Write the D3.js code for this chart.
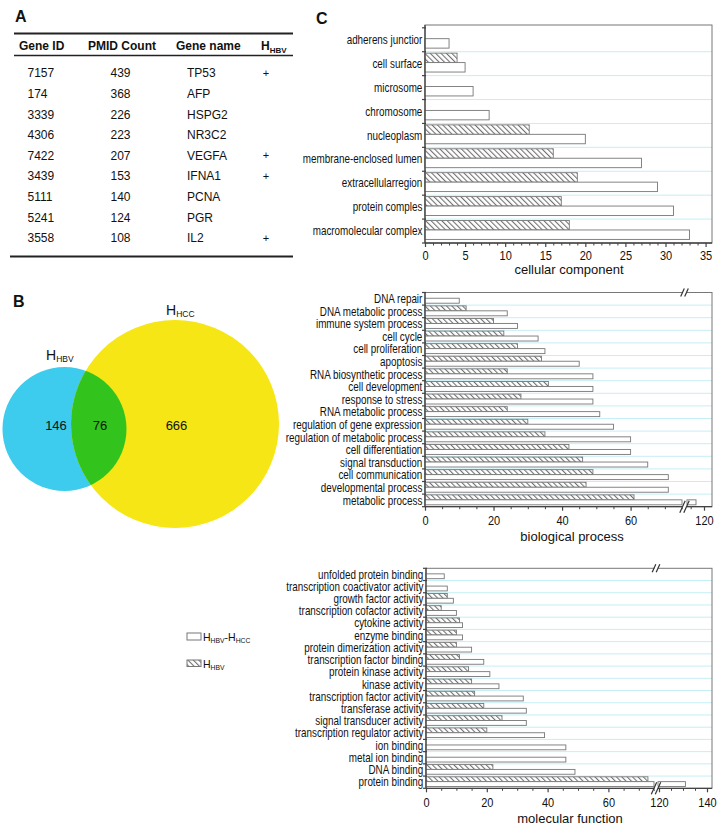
<!DOCTYPE html>
<html><head><meta charset="utf-8">
<script src="https://cdn.jsdelivr.net/npm/d3@7"></script>
<style>
body{margin:0;background:#fff}
svg{display:block}
text{font-family:"Liberation Sans",Arial,Helvetica,sans-serif;fill:#111}
</style>
</head><body>
<svg id="c" width="720" height="836"></svg>
<script>
// ---------- Panel A data ----------
const tableHeaders = ["Gene ID","PMID Count","Gene name"];
const geneIds = ["7157","174","3339","4306","7422","3439","5111","5241","3558"];
const pmidCounts = [439,368,226,223,207,153,140,124,108];
const geneNames = ["TP53","AFP","HSPG2","NR3C2","VEGFA","IFNA1","PCNA","PGR","IL2"];
const hbvFlags = ["+","","","","+","+","","","+"];

// ---------- Panel B data ----------
const vennCounts = [146, 76, 666]; // HBV only, both, HCC only

// ---------- Panel C data ----------
const ccCats = ["adherens junctior","cell surface","microsome","chromosome","nucleoplasm","membrane-enclosed lumen","extracellularregion","protein comples","macromolecular complex"];
const ccHBV  = [0,4,0,0,13,16,19,17,18];
const ccDiff = [3,5,6,8,20,27,29,31,33];
const ccMajor = [0,5,10,15,20,25,30,35];

const bpCats = ["DNA repair","DNA metabolic process","immune system process","cell cycle","cell proliferation","apoptosis","RNA biosynthetic process","cell development","response to stress","RNA metabolic process","regulation of gene expression","regulation of metabolic process","cell differentiation","signal transduction","cell communication","developmental process","metabolic process"];
const bpHBV  = [0,12,20,23,27,34,24,36,28,24,30,35,42,46,49,47,61];
const bpDiff = [10,24,27,33,35,45,49,49,49,51,55,60,60,65,71,71,117];
const bpMajor = [0,20,40,60,120];

const mfCats = ["unfolded protein binding","transcription coactivator activity","growth factor activity","transcription cofactor activity","cytokine activity","enzyme binding","protein dimerization activity","transcription factor binding","protein kinase activity","kinase activity","transcription factor activity","transferase activity","signal transducer activity","transcription regulator activity","ion binding","metal ion binding","DNA binding","protein binding"];
const mfHBV  = [0,0,7,5,11,10,10,11,14,15,16,19,25,20,0,0,22,73];
const mfDiff = [6,7,9,10,12,12,15,19,21,24,32,33,33,39,46,46,49,131];
const mfMajor = [0,20,40,60,120,140];

const svg = d3.select("#c");
const defs = svg.append("defs");
const pat = defs.append("pattern").attr("id","hatch")
  .attr("patternUnits","userSpaceOnUse").attr("width",3.8).attr("height",3.8)
  .attr("patternTransform","rotate(-45)");
pat.append("rect").attr("width",3.8).attr("height",3.8).attr("fill","#fff");
pat.append("line").attr("x1",0.5).attr("y1",0).attr("x2",0.5).attr("y2",3.8)
  .attr("stroke","#707070").attr("stroke-width",1.15);

// panel letters
[["A",15,22],["B",13,307],["C",316,24]].forEach(([t,x,y])=>{
  svg.append("text").attr("x",x).attr("y",y).attr("font-size",16).attr("font-weight","bold").text(t);
});

// ---------- Panel A ----------
const gA = svg.append("g");
gA.append("line").attr("x1",14).attr("x2",293).attr("y1",33.5).attr("y2",33.5).attr("stroke","#222").attr("stroke-width",2);
gA.append("line").attr("x1",14).attr("x2",293).attr("y1",55.5).attr("y2",55.5).attr("stroke","#222").attr("stroke-width",1.3);
gA.append("line").attr("x1",10).attr("x2",293).attr("y1",256.5).attr("y2",256.5).attr("stroke","#222").attr("stroke-width",2.2);
const headX = [19,88,176];
tableHeaders.forEach((h,i)=>{
  gA.append("text").attr("x",headX[i]).attr("y",49.5).attr("font-size",12).attr("font-weight","bold").text(h);
});
const hh = gA.append("text").attr("x",261).attr("y",49.5).attr("font-size",12).attr("font-weight","bold");
hh.append("tspan").text("H");
hh.append("tspan").attr("font-size",8).attr("dy",3.5).text("HBV");
const rowY = d3.scaleLinear().domain([0,8]).range([77.3,242.3]);
const colX = [27.5,110.5,187];
geneIds.forEach((g,i)=>{
  const y = rowY(i);
  gA.append("text").attr("x",colX[0]).attr("y",y).attr("font-size",12).text(g);
  gA.append("text").attr("x",colX[1]).attr("y",y).attr("font-size",12).text(pmidCounts[i]);
  gA.append("text").attr("x",colX[2]).attr("y",y).attr("font-size",12).text(geneNames[i]);
  if (hbvFlags[i]) gA.append("text").attr("x",266).attr("y",y-0.5).attr("font-size",11).attr("text-anchor","middle").text(hbvFlags[i]);
});

// ---------- Panel B ----------
const blur = defs.append("filter").attr("id","soft");
blur.append("feGaussianBlur").attr("stdDeviation",0.7);
const cB = {x:64.5,y:429,r:62};
const cY = {x:175,y:424,r:104};
defs.append("clipPath").attr("id","clipBlue").append("circle").attr("cx",cB.x).attr("cy",cB.y).attr("r",cB.r);
const gB = svg.append("g").attr("filter","url(#soft)");
gB.append("circle").attr("cx",cB.x).attr("cy",cB.y).attr("r",cB.r).attr("fill","#3ccbee");
gB.append("circle").attr("cx",cY.x).attr("cy",cY.y).attr("r",cY.r).attr("fill","#f6e614");
gB.append("circle").attr("cx",cY.x).attr("cy",cY.y).attr("r",cY.r).attr("fill","#33c41f").attr("clip-path","url(#clipBlue)");
const vx = [56,100,176.5];
vennCounts.forEach((v,i)=>{
  svg.append("text").attr("x",vx[i]).attr("y",430).attr("font-size",13).attr("text-anchor","middle").text(v);
});
const l1 = svg.append("text").attr("x",166).attr("y",315).attr("font-size",14);
l1.append("tspan").text("H"); l1.append("tspan").attr("font-size",8.5).attr("dy",2).text("HCC");
const l2 = svg.append("text").attr("x",46).attr("y",360).attr("font-size",14);
l2.append("tspan").text("H"); l2.append("tspan").attr("font-size",8.5).attr("dy",2).text("HBV");

// ---------- legend ----------
const gL = svg.append("g");
gL.append("rect").attr("x",187).attr("y",633).attr("width",14).attr("height",7).attr("fill","#fff").attr("stroke","#777");
gL.append("rect").attr("x",187).attr("y",660).attr("width",14).attr("height",6.5).attr("fill","url(#hatch)").attr("stroke","#777");
const t1 = gL.append("text").attr("x",203).attr("y",640.5).attr("font-size",10.5);
t1.append("tspan").text("H"); t1.append("tspan").attr("font-size",6.8).attr("dy",2).text("HBV");
t1.append("tspan").attr("dy",-2).text("-H"); t1.append("tspan").attr("font-size",6.8).attr("dy",2).text("HCC");
const t2 = gL.append("text").attr("x",203).attr("y",667.5).attr("font-size",10.5);
t2.append("tspan").text("H"); t2.append("tspan").attr("font-size",6.8).attr("dy",2).text("HBV");

// ---------- bar charts ----------
function drawChart(o){
  const g = svg.append("g");
  const x = d3.scaleLinear().domain(o.xDomain).range(o.xRange);
  const left = x(0), right = o.right;
  const band = d3.scaleBand().domain(o.cats).range([o.bandTop, o.bottom]);
  const bw = band.bandwidth();
  // grid lines
  g.selectAll("line.grid").data(o.cats.slice(1)).join("line").attr("class","grid")
    .attr("x1",left).attr("x2",right).attr("y1",d=>band(d)).attr("y2",d=>band(d))
    .attr("stroke","#c6eef5").attr("stroke-width",1);
  // box
  g.append("rect").attr("x",left).attr("y",o.top).attr("width",right-left).attr("height",o.bottom-o.top)
    .attr("fill","none").attr("stroke","#777").attr("stroke-width",1);
  const bars = g.append("g");
  o.cats.forEach((c,i)=>{
    const y0 = band(c);
    const h = o.hbv[i], d = o.diff[i];
    if (h > 0) bars.append("rect").attr("x",left).attr("y",y0+0.06*bw).attr("width",x(h)-left).attr("height",0.395*bw)
      .attr("fill","url(#hatch)").attr("stroke","#777").attr("stroke-width",0.9);
    const yw = y0+0.455*bw;
    if (o.brk && d > o.brk[0]) {
      bars.append("rect").attr("x",left).attr("y",yw).attr("width",x(o.brk[0])-left).attr("height",0.395*bw)
        .attr("fill","#fff").attr("stroke","#777").attr("stroke-width",0.9);
      bars.append("rect").attr("x",x(o.brk[1])-1).attr("y",yw).attr("width",x(d)-x(o.brk[1])+1).attr("height",0.395*bw)
        .attr("fill","#fff").attr("stroke","#777").attr("stroke-width",0.9);
    } else if (d > 0) {
      bars.append("rect").attr("x",left).attr("y",yw).attr("width",x(d)-left).attr("height",0.395*bw)
        .attr("fill","#fff").attr("stroke","#777").attr("stroke-width",0.9);
    }
  });
  // axes lines
  g.append("line").attr("x1",left).attr("x2",left).attr("y1",o.top).attr("y2",o.bottom).attr("stroke","#444").attr("stroke-width",1.3);
  g.append("line").attr("x1",left).attr("x2",right).attr("y1",o.bottom).attr("y2",o.bottom).attr("stroke","#444").attr("stroke-width",1.3);
  // left ticks at band boundaries
  const bounds = o.cats.map(c=>band(c)).concat([o.bottom]);
  g.selectAll("line.lt").data(bounds).join("line").attr("class","lt")
    .attr("x1",left-3).attr("x2",left+1).attr("y1",d=>d).attr("y2",d=>d).attr("stroke","#444").attr("stroke-width",1.2);
  // category labels via axis
  const ya = g.append("g").attr("transform",`translate(${left},0)`)
    .call(d3.axisLeft(band).tickSize(0).tickPadding(3.5));
  ya.select(".domain").remove();
  ya.selectAll("text").attr("font-size",13).attr("font-family",null).style("fill","#111")
    .attr("transform","scale(0.76,1)");
  // bottom axis major / minor
  const xa = g.append("g").attr("transform",`translate(0,${o.bottom})`)
    .call(d3.axisBottom(x).tickValues(o.major).tickSize(4).tickPadding(o.pad).tickFormat(d3.format("d")));
  xa.select(".domain").remove();
  xa.selectAll("line").attr("stroke","#444").attr("stroke-width",1.2);
  xa.selectAll("text").attr("font-size",12.5).attr("font-family",null).style("fill","#111").attr("transform","scale(0.88,1)");
  const xm = g.append("g").attr("transform",`translate(0,${o.bottom})`)
    .call(d3.axisBottom(x).tickValues(o.minor).tickSize(2.5).tickFormat(""));
  xm.select(".domain").remove();
  xm.selectAll("line").attr("stroke","#444");
  // breaks
  if (o.brk) {
    const xc = (x(o.brk[0])+x(o.brk[1]))/2;
    [[o.top,4],[o.bottom,6]].forEach(([yy,hgt])=>{
      g.append("rect").attr("x",x(o.brk[0])+0.5).attr("y",yy-2).attr("width",x(o.brk[1])-x(o.brk[0])-1.5).attr("height",4).attr("fill","#fff");
      [-2.5,1.5].forEach(off=>{
        g.append("line").attr("x1",xc+off-hgt*0.45).attr("y1",yy+hgt).attr("x2",xc+off+hgt*0.45).attr("y2",yy-hgt)
          .attr("stroke","#333").attr("stroke-width",1.2);
      });
    });
  }
  // title
  g.append("text").attr("x",o.titleX).attr("y",o.titleY).attr("font-size",13).attr("text-anchor","middle").text(o.title);
}

drawChart({cats:ccCats,hbv:ccHBV,diff:ccDiff,xDomain:[0,35.8],xRange:[425,712],right:712,
  top:25,bandTop:27.8,bottom:243,major:ccMajor,minor:d3.range(1,36).filter(v=>v%5),pad:4,
  title:"cellular component",titleX:569,titleY:274});
drawChart({cats:bpCats,hbv:bpHBV,diff:bpDiff,xDomain:[0,75,114,123],xRange:[425,682,688,712],right:712,
  top:292.5,bandTop:292.5,bottom:506.7,major:bpMajor,minor:d3.range(5,80,5).filter(v=>v%20).concat([115]),pad:5,
  brk:[75,114],title:"biological process",titleX:572,titleY:540.5});
drawChart({cats:mfCats,hbv:mfHBV,diff:mfDiff,xDomain:[0,75,120,142],xRange:[426,654,659,711.8],right:712,
  top:568.3,bandTop:568.3,bottom:788.3,major:mfMajor,minor:d3.range(5,80,5).filter(v=>v%20).concat([125,130,135]),pad:5.5,
  brk:[75,120],title:"molecular function",titleX:570,titleY:823});
</script>
</body></html>
